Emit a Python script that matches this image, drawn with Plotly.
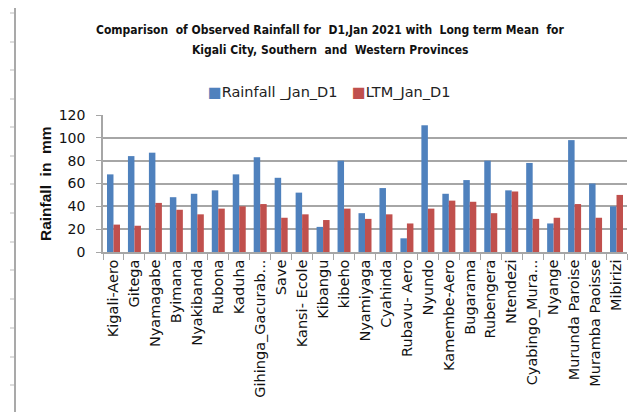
import plotly.graph_objects as go

stations = ["Kigali-Aero", "Gitega", "Nyamagabe", "Byimana", "Nyakibanda", "Rubona",
            "Kaduha", "Gihinga_Gacurab...", "Save", "Kansi- Ecole", "Kibangu", "kibeho",
            "Nyamiyaga", "Cyahinda", "Rubavu- Aero", "Nyundo", "Kamembe-Aero", "Bugarama",
            "Rubengera", "Ntendezi", "Cyabingo_Mura...", "Nyange", "Murunda Paroise",
            "Muramba Paoisse", "Mibirizi"]
rainfall_jan_d1 = [68, 84, 87, 48, 51, 54, 68, 83, 65, 52, 22, 80, 34, 56, 12, 111,
                   51, 63, 80, 54, 78, 25, 98, 60, 40]
ltm_jan_d1 = [24, 23, 43, 37, 33, 38, 40, 42, 30, 33, 28, 38, 29, 33, 25, 38,
              45, 44, 34, 53, 29, 30, 42, 30, 50]
y_ticks = [0, 20, 40, 60, 80, 100, 120]
series_names = ["Rainfall _Jan_D1", "LTM_Jan_D1"]

BLUE = "#4F81BD"
RED = "#C0504D"
GRID = "#A6A6A6"

fig = go.Figure()
fig.add_trace(go.Bar(x=stations, y=rainfall_jan_d1, name=series_names[0],
                     marker=dict(color=BLUE, line=dict(width=0))))
fig.add_trace(go.Bar(x=stations, y=ltm_jan_d1, name=series_names[1],
                     marker=dict(color=RED, line=dict(width=0))))

O = 8  # page offset of the figure inside the browser
W, H = 639 - O, 412 - O
L, T = 103 - O, 115 - O
R = W - (627 - O)
B = H - (252 - O)
pw, ph = W - L - R, H - T - B

def px(x):
    return (x - O - L) / pw

def py(y):
    return (H - B - (y - O)) / ph

shapes = [
    dict(type="line", xref="paper", yref="paper", x0=px(15), x1=px(15), y0=py(7), y1=py(430),
         line=dict(color="#8C8C8C", width=1.5)),
    dict(type="line", xref="paper", yref="paper", x0=px(15), x1=px(660), y0=py(7), y1=py(7),
         line=dict(color="#8C8C8C", width=1.5)),
]
for yy in [13, 42, 70, 99, 127, 156, 184, 213, 242, 270, 299, 328, 357, 385]:
    shapes.append(dict(type="line", xref="paper", yref="paper", x0=px(10), x1=px(14),
                       y0=py(yy), y1=py(yy), line=dict(color="#BBBBBB", width=1)))

TFONT = "DejaVu Sans Condensed"
LFONT = dict(family="DejaVu Sans", size=14.5, color="#222")
fig.update_layout(
    width=W, height=H,
    margin=dict(l=L, r=R, t=T, b=B, autoexpand=False),
    paper_bgcolor="white", plot_bgcolor="white",
    barmode="group", bargap=0.38, bargroupgap=0,
    showlegend=False,
    shapes=shapes,
    annotations=[
        dict(text="<b>Comparison  of Observed Rainfall for  D1,Jan 2021 with  Long term Mean  for</b>",
             xref="paper", yref="paper", x=px(330), y=py(30), showarrow=False,
             xanchor="center", yanchor="middle",
             font=dict(family=TFONT, size=12, color="#111")),
        dict(text="<b>Kigali City, Southern  and  Western Provinces</b>",
             xref="paper", yref="paper", x=px(330), y=py(50), showarrow=False,
             xanchor="center", yanchor="middle",
             font=dict(family=TFONT, size=12, color="#111")),
        dict(text="<b>Rainfall  in  mm</b>", textangle=-90,
             xref="paper", yref="paper", x=px(45), y=py(184), showarrow=False,
             xanchor="center", yanchor="middle",
             font=dict(family="Liberation Sans, Arial", size=15.5, color="#111")),
        dict(text=f"<span style='color:{BLUE}'>■</span>{series_names[0]}",
             xref="paper", yref="paper", x=px(206), y=py(92), showarrow=False,
             xanchor="left", yanchor="middle", font=LFONT),
        dict(text=f"<span style='color:{RED}'>■</span>{series_names[1]}",
             xref="paper", yref="paper", x=px(350), y=py(92), showarrow=False,
             xanchor="left", yanchor="middle", font=LFONT),
    ],
    font=dict(family="DejaVu Sans", color="#111"),
)

fig.update_yaxes(range=[0, 120], tickvals=y_ticks, showgrid=True, gridcolor=GRID, gridwidth=1.5,
                 showline=True, linecolor=GRID, linewidth=1.5, ticks="outside", ticklen=5,
                 tickcolor=GRID, ticklabelstandoff=8, automargin=False,
                 tickfont=dict(family="DejaVu Sans", size=14, color="#111"),
                 zeroline=False)
fig.update_xaxes(type="category", tickangle=-90, showline=True, linecolor=GRID, linewidth=1.5,
                 ticks="outside", ticklen=6, tickcolor=GRID, tickson="boundaries", automargin=False,
                 tickfont=dict(family="DejaVu Sans", size=14.5, color="#111"), showgrid=False)

fig.write_html("out.html")
